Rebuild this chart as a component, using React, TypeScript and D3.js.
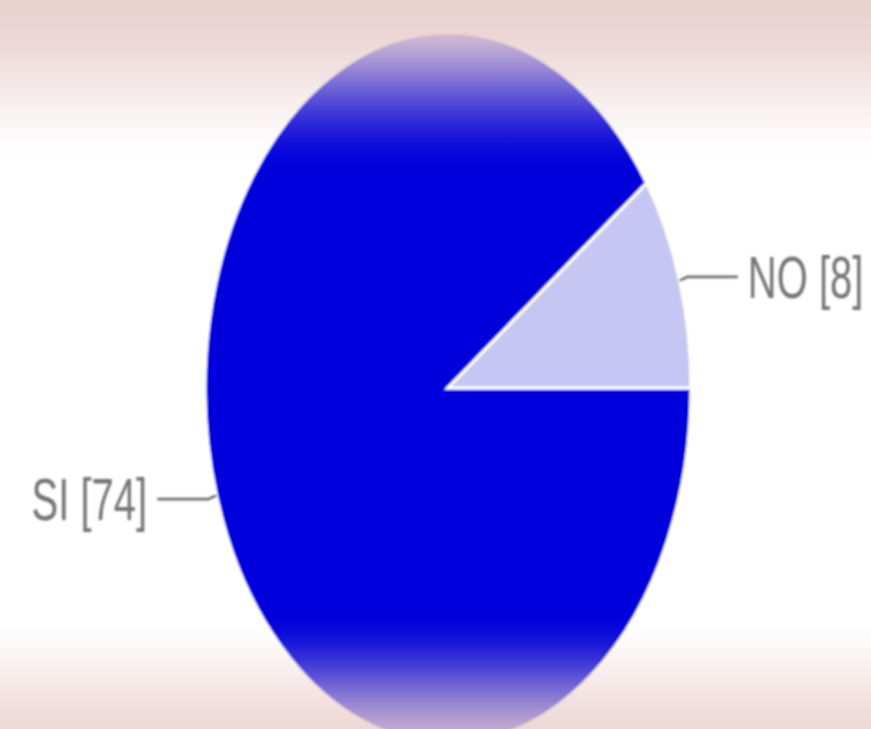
import React from "react";
import * as d3 from "d3";

const categories = ["SI", "NO"];
const values = [74, 8];
const colors = ["#0000dc", "#c6c6f2"];

const W = 871;
const H = 729;
const cx = 448;
const cy = 388;
const rx = 243;
const ry = 356;
const sy = ry / rx;

const smooth = (a: number, b: number, y: number) => {
  const s = Math.max(0, Math.min(1, (y - a) / (b - a)));
  return s * s * (3 - 2 * s);
};

export default function App() {
  const pie = d3
    .pie<number>()
    .value((d) => d)
    .sort(null)
    .startAngle(Math.PI / 2)
    .endAngle(Math.PI / 2 + 2 * Math.PI);
  const arcs = pie(values);
  const arc = d3.arc<d3.PieArcDatum<number>>().innerRadius(0).outerRadius(rx);

  const labels = arcs.map((a, i) => {
    const mid = (a.startAngle + a.endAngle) / 2;
    const sx = Math.sin(mid);
    const cyy = -Math.cos(mid);
    const p0 = [cx + sx * rx, cy + cyy * rx * sy];
    const p1 = [cx + sx * rx * 1.035, cy + cyy * rx * sy * 1.035];
    const right = sx > 0;
    const p2 = [p1[0] + (right ? 50 : -51), p1[1]];
    const tx = p2[0] + (right ? 10 : -10);
    return { p0, p1, p2, tx, right, text: `${categories[i]} [${values[i]}]`, ty: p1[1] + 21 };
  });

  const stops: { o: number; op: number; c: string }[] = [];
  for (let y = 0; y <= H; y += 6) {
    const top = 1 - smooth(0, 172, y);
    const bot = 0.86 * smooth(612, 748, y);
    const op = Math.max(top, bot);
    stops.push({ o: y / H, op, c: y < H / 2 ? "#e9d1d0" : "#eacfcc" });
  }
  stops.push({ o: 1, op: 0.86 * smooth(612, 748, H), c: "#eacfcc" });

  return (
    <svg
      width={W}
      height={H}
      style={{ position: "absolute", left: 0, top: 0, background: "#fff" }}
    >
      <defs>
        <linearGradient id="ov" x1="0" y1="0" x2="0" y2={H} gradientUnits="userSpaceOnUse">
          {stops.map((s, i) => (
            <stop key={i} offset={s.o} stopColor={s.c} stopOpacity={s.op} />
          ))}
        </linearGradient>
        <filter id="blur" x="-20%" y="-20%" width="140%" height="140%">
          <feGaussianBlur stdDeviation={0.9} />
        </filter>
      </defs>
      <g filter="url(#blur)">
        <g transform={`translate(${cx},${cy}) scale(1,${sy})`}>
          {arcs.map((a, i) => (
            <path
              key={i}
              d={arc(a) || ""}
              fill={colors[i]}
              stroke="#fff"
              strokeWidth={3}
              vectorEffect="non-scaling-stroke"
            />
          ))}
        </g>
        {labels.map((l, i) => (
          <g key={i}>
            <polyline
              points={[l.p0, l.p1, l.p2].map((p) => p.join(",")).join(" ")}
              fill="none"
              stroke="#6e6e6e"
              strokeWidth={2.8}
            />
            <text
              transform={`translate(${l.tx},${l.ty}) scale(1,1.46)`}
              textAnchor={l.right ? "start" : "end"}
              fontFamily="'Liberation Sans', Arial, sans-serif"
              fontSize={40}
              fill="#757575"
            >
              {l.text}
            </text>
          </g>
        ))}
      </g>
      <rect x={0} y={0} width={W} height={H} fill="url(#ov)" />
    </svg>
  );
}
